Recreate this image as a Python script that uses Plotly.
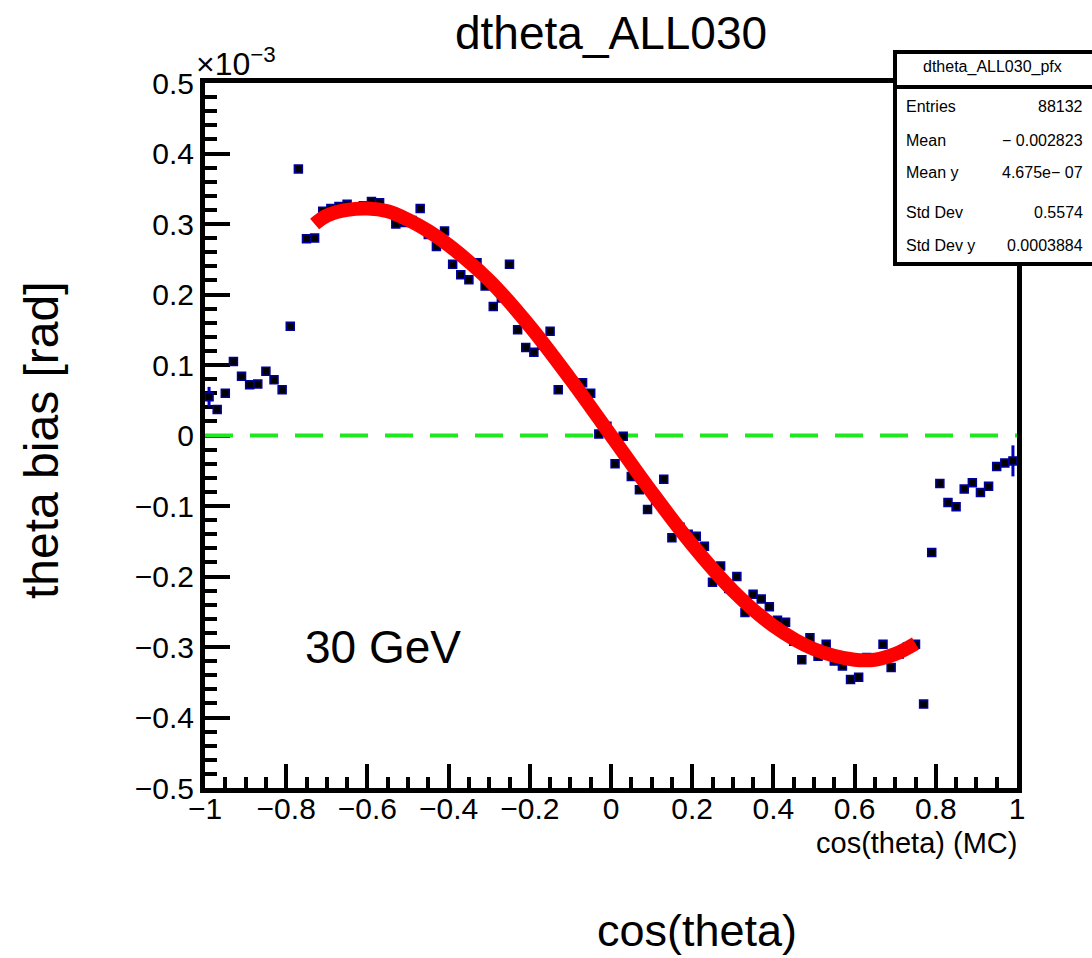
import plotly.graph_objects as go

# ---- data (values in units of 1e-3 rad) ----
cos_theta = [
    -0.99, -0.97, -0.95, -0.93, -0.91, -0.89, -0.87, -0.85, -0.83, -0.81,
    -0.79, -0.77, -0.75, -0.73, -0.71, -0.69, -0.67, -0.65, -0.63, -0.61,
    -0.59, -0.57, -0.55, -0.53, -0.51, -0.49, -0.47, -0.45, -0.43, -0.41,
    -0.39, -0.37, -0.35, -0.33, -0.31, -0.29, -0.27, -0.25, -0.23, -0.21,
    -0.19, -0.17, -0.15, -0.13, -0.11, -0.09, -0.07, -0.05, -0.03, -0.01,
    0.01, 0.03, 0.05, 0.07, 0.09, 0.11, 0.13, 0.15, 0.17, 0.19,
    0.21, 0.23, 0.25, 0.27, 0.29, 0.31, 0.33, 0.35, 0.37, 0.39,
    0.41, 0.43, 0.45, 0.47, 0.49, 0.51, 0.53, 0.55, 0.57, 0.59,
    0.61, 0.63, 0.65, 0.67, 0.69, 0.71, 0.73, 0.75, 0.77, 0.79,
    0.81, 0.83, 0.85, 0.87, 0.89, 0.91, 0.93, 0.95, 0.97, 0.99,
]
theta_bias = [
    0.055, 0.037, 0.060, 0.105, 0.084, 0.072, 0.073, 0.091, 0.079, 0.065,
    0.155, 0.378, 0.279, 0.280, 0.318, 0.322, 0.325, 0.328, 0.322, 0.326,
    0.332, 0.330, 0.318, 0.300, 0.302, 0.305, 0.322, 0.285, 0.268, 0.290,
    0.243, 0.228, 0.221, 0.245, 0.212, 0.183, 0.195, 0.243, 0.150, 0.125,
    0.118, 0.128, 0.148, 0.065, 0.088, 0.072, 0.075, 0.060, 0.002, 0.013,
    -0.040, -0.001, -0.058, -0.077, -0.105, -0.092, -0.062, -0.145, -0.130, -0.140,
    -0.143, -0.157, -0.208, -0.185, -0.217, -0.200, -0.251, -0.225, -0.232, -0.243,
    -0.262, -0.265, -0.292, -0.318, -0.287, -0.313, -0.296, -0.320, -0.327, -0.346,
    -0.343, -0.315, -0.318, -0.296, -0.329, -0.310, -0.300, -0.296, -0.381, -0.166,
    -0.068, -0.095, -0.101, -0.076, -0.067, -0.081, -0.072, -0.044, -0.039, -0.036,
]
bias_err = [
    0.014, 0.006, 0.005, 0.005, 0.004, 0.004, 0.004, 0.004, 0.004, 0.004,
    0.005, 0.005, 0.005, 0.005, 0.004, 0.004, 0.004, 0.004, 0.004, 0.004,
    0.004, 0.004, 0.004, 0.004, 0.004, 0.004, 0.004, 0.004, 0.004, 0.004,
    0.004, 0.004, 0.004, 0.004, 0.004, 0.004, 0.004, 0.004, 0.004, 0.004,
    0.004, 0.004, 0.004, 0.004, 0.004, 0.004, 0.004, 0.004, 0.004, 0.004,
    0.004, 0.004, 0.004, 0.004, 0.004, 0.004, 0.004, 0.004, 0.004, 0.004,
    0.004, 0.004, 0.004, 0.004, 0.004, 0.004, 0.004, 0.004, 0.004, 0.004,
    0.004, 0.004, 0.004, 0.004, 0.004, 0.004, 0.004, 0.004, 0.004, 0.004,
    0.004, 0.004, 0.004, 0.004, 0.004, 0.004, 0.004, 0.004, 0.005, 0.005,
    0.004, 0.004, 0.004, 0.004, 0.004, 0.004, 0.004, 0.004, 0.005, 0.022,
]

# fit curve
fit_x = [-0.73, -0.70, -0.65, -0.60, -0.55, -0.50, -0.45, -0.40, -0.30, -0.20,
         -0.10, 0.00, 0.10, 0.20, 0.30, 0.40, 0.50, 0.60, 0.65, 0.70, 0.75]
fit_y = [0.300, 0.312, 0.320, 0.322, 0.318, 0.306, 0.290, 0.270, 0.220, 0.155,
         0.080, 0.000, -0.080, -0.155, -0.220, -0.270, -0.303, -0.318, -0.318, -0.310, -0.295]

zero_x = [-1, 1]
zero_y = [0, 0]

x_ticks = [-1, -0.8, -0.6, -0.4, -0.2, 0, 0.2, 0.4, 0.6, 0.8, 1]
y_ticks = [0.5, 0.4, 0.3, 0.2, 0.1, 0, -0.1, -0.2, -0.3, -0.4, -0.5]

stats_labels = ["Entries", "Mean", "Mean y", "Std Dev", "Std Dev y"]
stats_values = ["88132", "\u2212 0.002823", "4.675e\u2212 07", "0.5574", "0.0003884"]

# ---- layout helpers (pixel -> paper) ----
L, R, T, B = 205, 1017, 83, 788
W, H = 1092, 958
def px(x):
    return (x - L) / (R - L)
def py(y):
    return (B - y) / (B - T)

FONT = "Liberation Sans, Arial, sans-serif"

fig = go.Figure()

fig.add_trace(go.Scatter(
    x=zero_x, y=zero_y, mode="lines",
    line=dict(color="#1fe81f", width=4, dash="28px,17px"),
    hoverinfo="skip", showlegend=False,
))

fig.add_trace(go.Scatter(
    x=cos_theta, y=theta_bias, mode="markers",
    marker=dict(symbol="square", size=8, color="black",
                line=dict(color="#0000a0", width=1.5)),
    error_y=dict(type="data", array=bias_err, color="#0000c0", thickness=3, width=0),
    showlegend=False,
))

fig.add_trace(go.Scatter(
    x=fit_x, y=fit_y, mode="lines", line_shape="spline",
    line=dict(color="#ff0000", width=14),
    showlegend=False,
))

axis_common = dict(
    showline=True, linecolor="black", linewidth=5, mirror=True,
    ticks="inside", tickcolor="black", tickwidth=4,
    showgrid=False, zeroline=False, layer="below traces",
    tickfont=dict(family=FONT, size=30, color="black"),
)

fig.update_xaxes(
    range=[-1, 1], tickvals=x_ticks, ticklen=24, ticklabelstandoff=-10,
    ticktext=["\u22121" if v == -1 else ("0" if v == 0 else f"{v:g}".replace("-", "\u2212")) for v in x_ticks],
    minor=dict(ticks="inside", dtick=0.05, tick0=-1, ticklen=11, tickwidth=4, tickcolor="black"),
    **axis_common,
)
fig.update_yaxes(
    range=[-0.5, 0.5], tickvals=y_ticks, ticklen=25,
    ticktext=["0" if v == 0 else f"{v:g}".replace("-", "\u2212") for v in y_ticks],
    minor=dict(ticks="inside", dtick=0.02, tick0=0, ticklen=12, tickwidth=4, tickcolor="black"),
    **axis_common,
)

shapes = [
    # stats box
    dict(type="rect", xref="paper", yref="paper",
         x0=px(895), x1=px(1110), y0=py(264), y1=py(52),
         line=dict(color="black", width=4), fillcolor="white", layer="above"),
    dict(type="line", xref="paper", yref="paper",
         x0=px(895), x1=px(1110), y0=py(87), y1=py(87),
         line=dict(color="black", width=4), layer="above"),
]

annotations = [
    dict(text="dtheta_ALL030", x=0.5, xref="paper", y=py(33), yref="paper",
         showarrow=False, font=dict(family=FONT, size=46, color="black"),
         xanchor="center", yanchor="middle"),
    dict(text="\u00d710<sup>\u22123</sup>", x=px(194), xref="paper", y=py(62), yref="paper",
         showarrow=False, font=dict(family=FONT, size=32, color="black"),
         xanchor="left", yanchor="middle"),
    dict(text="theta bias [rad]", x=px(42), xref="paper", y=py(440), yref="paper",
         showarrow=False, textangle=-90, font=dict(family=FONT, size=48, color="black"),
         xanchor="center", yanchor="middle"),
    dict(text="cos(theta) (MC)", x=px(1019), xref="paper", y=py(843), yref="paper",
         showarrow=False, font=dict(family=FONT, size=29, color="black"),
         xanchor="right", yanchor="middle"),
    dict(text="cos(theta)", x=px(697), xref="paper", y=py(930), yref="paper",
         showarrow=False, font=dict(family=FONT, size=45, color="black"),
         xanchor="center", yanchor="middle"),
    dict(text="30 GeV", x=-0.562, xref="x", y=-0.30, yref="y",
         showarrow=False, font=dict(family=FONT, size=46, color="black"),
         xanchor="center", yanchor="middle"),
    dict(text="dtheta_ALL030_pfx", x=px(992), xref="paper", y=py(67), yref="paper",
         showarrow=False, font=dict(family=FONT, size=16, color="black"),
         xanchor="center", yanchor="middle"),
]
row_y = [106, 140, 173, 212, 245]
for lab, val, yy in zip(stats_labels, stats_values, row_y):
    annotations.append(dict(text=lab, x=px(904), xref="paper", y=py(yy), yref="paper",
                            showarrow=False, font=dict(family=FONT, size=16, color="black"),
                            xanchor="left", yanchor="middle"))
    annotations.append(dict(text=val, x=px(1085), xref="paper", y=py(yy), yref="paper",
                            showarrow=False, font=dict(family=FONT, size=16, color="black"),
                            xanchor="right", yanchor="middle"))

fig.update_layout(
    width=W, height=H,
    margin=dict(l=L, r=W - R, t=T, b=H - B),
    paper_bgcolor="white", plot_bgcolor="white",
    shapes=shapes, annotations=annotations,
    showlegend=False,
)

fig.write_html("out.html")
